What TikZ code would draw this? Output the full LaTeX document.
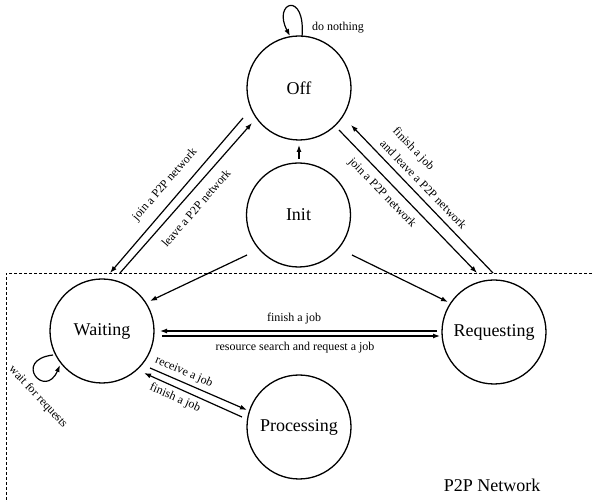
\documentclass[tikz,border=0pt]{standalone}
\usepackage{fontspec}
\setmainfont{Liberation Serif}
\usetikzlibrary{arrows.meta}
\begin{document}
\begin{tikzpicture}[x=1pt,y=-1pt,
  state/.style={circle,draw,line width=1.3pt,minimum size=104pt,inner sep=0pt,font=\fontsize{18}{20}\selectfont},
  arr/.style={line width=1.2pt,-{Latex[length=7pt,width=5pt]}},
  lbl/.style={font=\fontsize{12}{18}\selectfont,inner sep=0pt},
  netbox/.style={line width=0.8pt,dash pattern=on 3pt off 2pt}
]
\useasboundingbox (0,0) rectangle (592,502);
\draw[netbox] (592,273) -- (6,273) -- (6,510);

\node[state] (O) at (299,88) {Off};
\node[state] (I) at (298.5,215) {Init};
\node[state] (W) at (102,331) {Waiting};
\node[state] (R) at (494,332) {Requesting};
\node[state] (P) at (299,427) {Processing};

% Init arrows
\draw[arr] ([shift={(0.5,-56)}]I.center) -- ([shift={(0,57)}]O.center);
\draw[arr] ([shift={(-51.5,40)}]I.center) -- ([shift={(48,-30)}]W.center);
\draw[arr] ([shift={(53.5,40)}]I.center) -- ([shift={(-46,-30)}]R.center);

% Off <-> Waiting
\draw[arr] ([shift={(-56,30)}]O.center) -- ([shift={(8,-58)}]W.center);
\draw[arr] ([shift={(18,-58)}]W.center) -- ([shift={(-47,35)}]O.center);

% Off <-> Requesting
\draw[arr] ([shift={(40,42)}]O.center) -- ([shift={(-17,-59)}]R.center);
\draw[arr] ([shift={(-1,-59)}]R.center) -- ([shift={(52,37)}]O.center);

% Waiting <-> Requesting
\draw[arr] ([shift={(-57,-1)}]R.center) -- ([shift={(58,0)}]W.center);
\draw[arr] ([shift={(60,5)}]W.center) -- ([shift={(-54,4)}]R.center);

% Waiting <-> Processing
\draw[arr] ([shift={(48,37)}]W.center) -- ([shift={(-52,-17)}]P.center);
\draw[arr] ([shift={(-57,-10)}]P.center) -- ([shift={(42,42)}]W.center);

% loops
\draw[arr] ([shift={(3,-51)}]O.center) .. controls +(4,-47) and +(-18,-34) .. ([shift={(-9,-52)}]O.center);
\draw[arr] ([shift={(-49,24)}]W.center) .. controls +(-41,5) and +(-15,35) .. ([shift={(-42,34)}]W.center);

% labels
\node[lbl] (l1) at (338,28) {do nothing};
\node[lbl,rotate=-47] (l2) at (38,397) {wait for requests};
\node[lbl,rotate=49] (l3) at (165,185) {join a P2P network};
\node[lbl,rotate=49] (l4) at (196,208) {leave a P2P network};
\node[lbl,rotate=-46] (l5) at (382,193) {join a P2P network};
\node[lbl,rotate=-46,align=left] (l6) at (430,178) {finish a job\\and leave a P2P network};
\node[lbl] (l7) at (294,319) {finish a job};
\node[lbl] (l8) at (295,348) {resource search and request a job};
\node[lbl,rotate=-23.5] (l9) at (184,372) {receive a job};
\node[lbl,rotate=-23.5] (l10) at (175,398) {finish a job};
\node[font=\fontsize{18}{20}\selectfont,inner sep=0pt] (net) at (492,485) {P2P Network};
\end{tikzpicture}
\end{document}
